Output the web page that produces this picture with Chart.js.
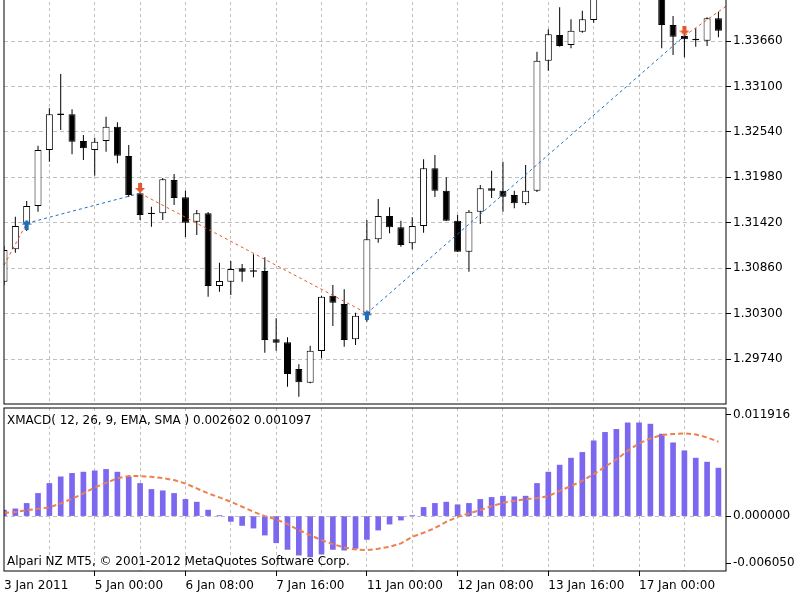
<!DOCTYPE html>
<html>
<head>
<meta charset="utf-8">
<script src="https://cdn.jsdelivr.net/npm/chart.js@4.4.0/dist/chart.umd.min.js"></script>
<style>
  html, body { margin: 0; padding: 0; background: #fff; }
  #wrap { position: relative; width: 800px; height: 600px; overflow: hidden; background: #fff; }
  canvas { position: absolute; left: 0; }
  #priceCanvas { top: -40px; }
  #macdCanvas { top: 405px; }
  .note { position: absolute; left: 7px; font: 12px "DejaVu Sans", sans-serif; color: #000; white-space: nowrap; line-height: 14px; }
</style>
</head>
<body>
<div id="wrap">
  <canvas id="priceCanvas" width="800" height="445"></canvas>
  <canvas id="macdCanvas" width="800" height="195"></canvas>
  <div class="note" style="top:413px">XMACD( 12, 26, 9, EMA, SMA ) 0.002602 0.001097</div>
  <div class="note" style="top:554px">Alpari NZ MT5, © 2001-2012 MetaQuotes Software Corp.</div>
</div>
<script>
// ---- data (H4 bars, index 0 = 3 Jan 2011 16:00) ----
const xLabels = ['3 Jan 2011', '5 Jan 00:00', '6 Jan 08:00', '7 Jan 16:00', '11 Jan 00:00', '12 Jan 08:00', '13 Jan 16:00', '17 Jan 00:00'];
const priceTicks = [1.29740, 1.30300, 1.30860, 1.31420, 1.31980, 1.32540, 1.33100, 1.33660, 1.34220];
const macdTicks = [-0.006050, 0, 0.011916];

const openP = [1.30693, 1.31092, 1.31413, 1.31626, 1.32316, 1.32748, 1.32756, 1.32427, 1.32316, 1.32427,
  1.32604, 1.32242, 1.31783, 1.31527, 1.31536, 1.31947, 1.31733, 1.31433, 1.31536, 1.30640,
  1.30693, 1.30858, 1.30816, 1.30825, 1.29983, 1.29946, 1.29617, 1.29448, 1.29839, 1.30520,
  1.30418, 1.29983, 1.30303, 1.31216, 1.31503, 1.31364, 1.31166, 1.31380, 1.32091, 1.31815,
  1.31445, 1.31063, 1.31556, 1.31844, 1.31815, 1.31762, 1.31659, 1.31815, 1.33417, 1.33734,
  1.33611, 1.33775, 1.33919, 1.34387, 1.34620, 1.34790, 1.34710, 1.34580, 1.34330, 1.33857,
  1.33722, 1.33688, 1.33664, 1.33940];
const highP = [1.31133, 1.31494, 1.31688, 1.32369, 1.32830, 1.33253, 1.32818, 1.32501, 1.32468, 1.32727,
  1.32658, 1.32378, 1.31799, 1.31617, 1.31971, 1.32021, 1.31815, 1.31577, 1.31552, 1.30927,
  1.30948, 1.30911, 1.31031, 1.30994, 1.30242, 1.30008, 1.29675, 1.29904, 1.30520, 1.30652,
  1.30599, 1.30311, 1.31454, 1.31712, 1.31610, 1.31445, 1.31487, 1.32202, 1.32255, 1.31980,
  1.31515, 1.31577, 1.31885, 1.32061, 1.32172, 1.31815, 1.32131, 1.33528, 1.33804, 1.34075,
  1.33928, 1.34034, 1.34461, 1.34690, 1.34860, 1.34900, 1.34770, 1.34640, 1.34370, 1.33968,
  1.33755, 1.33817, 1.33952, 1.34021];
const lowP = [1.30652, 1.31050, 1.31318, 1.31556, 1.32172, 1.32563, 1.32263, 1.32193, 1.32000, 1.32295,
  1.32152, 1.31737, 1.31454, 1.31371, 1.31454, 1.31638, 1.31244, 1.31269, 1.30508, 1.30570,
  1.30529, 1.30693, 1.30747, 1.29818, 1.29842, 1.29399, 1.29275, 1.29441, 1.29749, 1.30147,
  1.29892, 1.29913, 1.30200, 1.31174, 1.31290, 1.31124, 1.31092, 1.31297, 1.31737, 1.31441,
  1.31059, 1.30816, 1.31404, 1.31725, 1.31556, 1.31598, 1.31638, 1.31799, 1.33294, 1.33590,
  1.33570, 1.33762, 1.33886, 1.34200, 1.34520, 1.34610, 1.34470, 1.34220, 1.33570, 1.33487,
  1.33459, 1.33590, 1.33598, 1.33706];
const closeP = [1.31084, 1.31380, 1.31626, 1.32316, 1.32756, 1.32766, 1.32419, 1.32337, 1.32419, 1.32604,
  1.32246, 1.31762, 1.31515, 1.31543, 1.31955, 1.31725, 1.31420, 1.31536, 1.30640, 1.30702,
  1.30849, 1.30816, 1.30833, 1.29974, 1.29941, 1.29555, 1.29453, 1.29842, 1.30508, 1.30434,
  1.29974, 1.30274, 1.31216, 1.31503, 1.31364, 1.31145, 1.31380, 1.32091, 1.31815, 1.31445,
  1.31063, 1.31556, 1.31844, 1.31815, 1.31741, 1.31659, 1.31815, 1.33417, 1.33743, 1.33598,
  1.33787, 1.33928, 1.34387, 1.34620, 1.34790, 1.34710, 1.34580, 1.34330, 1.33857, 1.33713,
  1.33681, 1.33669, 1.33940, 1.33787];

// trade signal path (open price of signal bars) and arrows
const pathIdx = [-1, 2, 12, 32, 60, 64];
const pathPrice = [1.30636, 1.31413, 1.31783, 1.30303, 1.33722, 1.34121];
const buyIdx = [2, 32];
const buyPrice = [1.31396, 1.30279];
const sellIdx = [12, 60];
const sellPrice = [1.31848, 1.33789];

const macdHist = [0.00066, 0.00080, 0.00140, 0.00250, 0.00360, 0.00433, 0.00471, 0.00485, 0.00499, 0.00515,
  0.00485, 0.00433, 0.00360, 0.00294, 0.00279, 0.00250, 0.00184, 0.00154, 0.00066, 0.00003,
  -0.00058, -0.00103, -0.00132, -0.00209, -0.00294, -0.00367, -0.00430, -0.00449, -0.00419, -0.00367,
  -0.00375, -0.00356, -0.00257, -0.00154, -0.00088, -0.00044, 0.00003, 0.00096, 0.00140, 0.00154,
  0.00125, 0.00140, 0.00184, 0.00206, 0.00220, 0.00213, 0.00220, 0.00360, 0.00485, 0.00562,
  0.00639, 0.00702, 0.00830, 0.00923, 0.00956, 0.01028, 0.01028, 0.01014, 0.00904, 0.00808,
  0.00720, 0.00639, 0.00595, 0.00529];
const macdSignal = [0.00036, 0.00044, 0.00066, 0.00080, 0.00096, 0.00140, 0.00191, 0.00250, 0.00316, 0.00367,
  0.00416, 0.00441, 0.00441, 0.00433, 0.00419, 0.00397, 0.00360, 0.00305, 0.00250, 0.00206,
  0.00158, 0.00103, 0.00047, 0.00000, -0.00036, -0.00088, -0.00154, -0.00209, -0.00265, -0.00309,
  -0.00345, -0.00367, -0.00375, -0.00360, -0.00338, -0.00301, -0.00228, -0.00184, -0.00132, -0.00063,
  -0.00008, 0.00030, 0.00066, 0.00110, 0.00147, 0.00169, 0.00187, 0.00198, 0.00220, 0.00279,
  0.00331, 0.00389, 0.00463, 0.00543, 0.00625, 0.00720, 0.00801, 0.00856, 0.00893, 0.00904,
  0.00912, 0.00900, 0.00867, 0.00819];

// ---- layout constants ----
const X_MAX = 722 / 11.34;            // bars visible across the plot width
const gridIdx = [];
for (let i = 0; i <= 60; i += 4) gridIdx.push(i);
const PRICE_PX = 0.00012327;
const priceMin = 1.33660 - 363 * PRICE_PX;
const priceMax = priceMin + 444 * PRICE_PX;
const macdMin = -0.006050, macdMax = 0.011916;
const FONT = { family: 'DejaVu Sans', size: 12 };
const GRID = '#c0c0c0';

const framePlugin = {
  id: 'frame',
  afterDraw(chart) {
    const a = chart.chartArea, g = chart.ctx;
    g.save();
    g.strokeStyle = '#000';
    g.lineWidth = 1;
    g.strokeRect(a.left, a.top, a.right - a.left, a.bottom - a.top);
    g.restore();
  }
};

function arrowImage(color, up) {
  const c = document.createElement('canvas');
  c.width = 10; c.height = 10;
  const g = c.getContext('2d');
  g.fillStyle = color;
  g.beginPath();
  if (up) {
    g.moveTo(5, 0); g.lineTo(10, 5); g.lineTo(7, 5); g.lineTo(7, 10); g.lineTo(3, 10); g.lineTo(3, 5); g.lineTo(0, 5);
  } else {
    g.moveTo(5, 10); g.lineTo(10, 5); g.lineTo(7, 5); g.lineTo(7, 0); g.lineTo(3, 0); g.lineTo(3, 5); g.lineTo(0, 5);
  }
  g.closePath();
  g.fill();
  return c;
}

const zeroPad = s => { s.paddingTop = 0; s.paddingBottom = 0; s.paddingLeft = 0; s.paddingRight = 0; };

// ---- price panel ----
const pathColors = ['#e4572e', '#1e6fb8', '#e4572e', '#1e6fb8', '#e4572e'];

new Chart(document.getElementById('priceCanvas'), {
  type: 'bar',
  data: {
    datasets: [
      {
        type: 'line', order: 0, showLine: false,
        data: buyIdx.map((x, k) => ({ x, y: buyPrice[k] })),
        pointStyle: arrowImage('#1e6fb8', true), pointRadius: 5
      },
      {
        type: 'line', order: 0, showLine: false,
        data: sellIdx.map((x, k) => ({ x, y: sellPrice[k] })),
        pointStyle: arrowImage('#e4572e', false), pointRadius: 5
      },
      {
        type: 'line', order: 1,
        data: pathIdx.map((x, k) => ({ x, y: pathPrice[k] })),
        borderWidth: 1, borderDash: [3, 3], pointRadius: 0, tension: 0,
        borderColor: '#1e6fb8',
        segment: { borderColor: ctx => pathColors[ctx.p0DataIndex] }
      },
      {
        order: 2, grouped: false,
        data: openP.map((o, i) => ({ x: i, y: [o, closeP[i]] })),
        backgroundColor: openP.map((o, i) => closeP[i] >= o ? '#fff' : '#000'),
        borderColor: '#000', borderWidth: 1, borderSkipped: false,
        barThickness: 7, inflateAmount: 0
      },
      {
        order: 3, grouped: false,
        data: lowP.map((l, i) => ({ x: i, y: [l, highP[i]] })),
        backgroundColor: '#000', borderWidth: 0,
        barThickness: 1, inflateAmount: 0
      }
    ]
  },
  options: {
    responsive: false, animation: false, events: [],
    layout: { autoPadding: false, padding: { left: 4, right: 0, top: 0, bottom: 1 } },
    plugins: { legend: { display: false }, tooltip: { enabled: false } },
    scales: {
      x: {
        type: 'linear', min: 0, max: X_MAX, offset: false,
        grid: { color: ctx => ctx.tick && ctx.tick.value === 0 ? 'rgba(0,0,0,0)' : GRID, drawTicks: false, offset: false },
        border: { display: false, dash: [3, 3] },
        ticks: { display: false },
        afterBuildTicks: s => { s.ticks = gridIdx.map(v => ({ value: v })); },
        afterFit: s => { s.height = 0; zeroPad(s); }
      },
      y: {
        type: 'linear', position: 'right', min: priceMin, max: priceMax, beginAtZero: false,
        grid: { color: GRID, tickColor: '#000', tickLength: 5 },
        border: { display: false, dash: [4, 3] },
        ticks: { color: '#000', font: FONT, padding: 2, callback: v => v.toFixed(5) },
        afterBuildTicks: s => { s.ticks = priceTicks.map(v => ({ value: v })); },
        afterFit: s => { s.width = 74; zeroPad(s); }
      }
    }
  },
  plugins: [framePlugin]
});

// ---- MACD panel ----
const macdStep = (macdMax - macdMin) / 163;

new Chart(document.getElementById('macdCanvas'), {
  type: 'bar',
  data: {
    datasets: [
      {
        type: 'line', order: 0,
        data: macdSignal.map((v, i) => ({ x: i, y: v })),
        borderColor: '#f07f4e', borderWidth: 2, borderDash: [5, 3], pointRadius: 0, tension: 0
      },
      {
        order: 1, grouped: false,
        data: macdHist.map((v, i) => ({ x: i, y: v })),
        backgroundColor: '#7b68ee', borderWidth: 0, barThickness: 5
      }
    ]
  },
  options: {
    responsive: false, animation: false, events: [],
    layout: { autoPadding: false, padding: { left: 4, right: 0, top: 3, bottom: 0 } },
    plugins: { legend: { display: false }, tooltip: { enabled: false } },
    scales: {
      x: {
        type: 'linear', min: 0, max: X_MAX, offset: false,
        grid: {
          color: ctx => ctx.tick && ctx.tick.value === 0 ? 'rgba(0,0,0,0)' : GRID,
          tickColor: ctx => ctx.tick && ctx.tick.value > 0 && ctx.tick.value % 8 === 0 ? '#000' : 'rgba(0,0,0,0)',
          tickLength: 5, offset: false
        },
        border: { display: false, dash: [3, 3] },
        ticks: {
          color: '#000', font: FONT, padding: 3, align: 'start', autoSkip: false, maxRotation: 0,
          callback: v => v % 8 === 0 ? xLabels[v / 8] : ''
        },
        afterBuildTicks: s => { s.ticks = gridIdx.map(v => ({ value: v })); },
        afterFit: s => { s.height = 29; zeroPad(s); }
      },
      y: {
        type: 'linear', position: 'right', min: macdMin, max: macdMax, beginAtZero: false,
        grid: {
          color: ctx => ctx.tick && ctx.tick.value === 0 ? GRID : 'rgba(0,0,0,0)',
          tickColor: '#000', tickLength: 5
        },
        border: { display: false, dash: [4, 3] },
        ticks: { color: '#000', font: FONT, padding: 2, callback: (v, i) => macdTicks[i].toFixed(6) },
        afterBuildTicks: s => {
          s.ticks = macdTicks.map(v => ({ value: Math.min(Math.max(v, macdMin + 8 * macdStep), macdMax - 7 * macdStep) }));
        },
        afterFit: s => { s.width = 74; zeroPad(s); }
      }
    }
  },
  plugins: [framePlugin]
});
</script>
</body>
</html>
